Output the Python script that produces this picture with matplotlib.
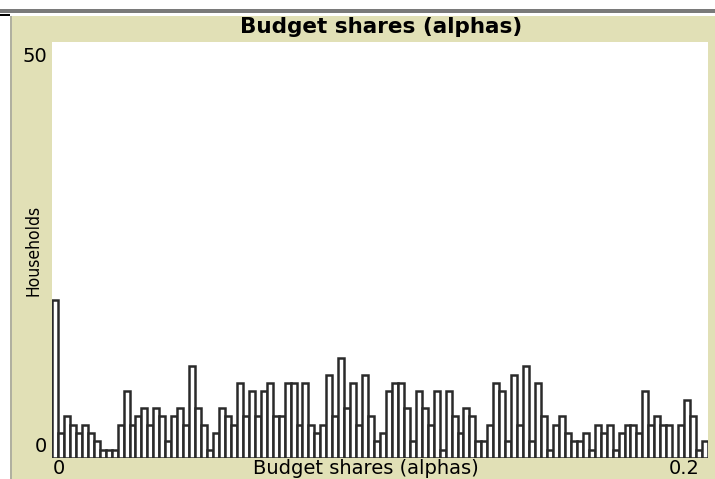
import numpy as np
import matplotlib
matplotlib.use("Agg")
import matplotlib.pyplot as plt
from matplotlib.patches import Rectangle

# household counts per budget-share bin (left to right)
households = [19, 3, 5, 4, 3, 4, 3, 2, 1, 1, 1, 4, 8, 4, 5,
              6, 4, 6, 5, 2, 5, 6, 4, 11, 6, 4, 1, 3, 6, 5, 4,
              9, 5, 8, 5, 8, 9, 5, 5, 9, 9, 4, 9, 4, 3, 4, 10,
              5, 12, 6, 9, 4, 10, 5, 2, 3, 8, 9, 9, 6, 2, 8, 6,
              4, 8, 1, 8, 5, 3, 6, 5, 2, 2, 4, 9, 8, 2, 10, 4, 11,
              2, 9, 5, 1, 4, 5, 3, 2, 2, 3, 1, 4, 3, 4, 1, 3,
              4, 4, 3, 8, 4, 5, 4, 4, 0, 4, 7, 5, 1, 2]
x_min, x_max = 0.0, 0.2
y_min, y_max = 0, 50
title = "Budget shares (alphas)"
x_label = "Budget shares (alphas)"
y_label = "Households"

W, H = 715, 479
beige = "#e1e0b6"

fig = plt.figure(figsize=(W / 100, H / 100), dpi=100)
fig.patch.set_facecolor("white")

# window frame bits
fig.patches.append(Rectangle((12 / W, 0), 1, 1 - 16 / H, transform=fig.transFigure,
                             facecolor=beige, edgecolor="none", zorder=0))
fig.patches.append(Rectangle((0, 1 - 13 / H), 1, 4 / H, transform=fig.transFigure,
                             facecolor="#7a7a7a", edgecolor="none", zorder=1))
fig.patches.append(Rectangle((0, 1 - 16 / H), 10 / W, 2 / H, transform=fig.transFigure,
                             facecolor="black", edgecolor="none", zorder=1))
fig.patches.append(Rectangle((10 / W, 0), 1.5 / W, 1 - 16 / H, transform=fig.transFigure,
                             facecolor="#b0b0a0", edgecolor="none", zorder=1))

ax = fig.add_axes([52 / W, 21 / H, 656 / W, 416 / H])
ax.set_zorder(5)
ax.set_facecolor("white")

n = len(households)
edges = np.linspace(x_min, x_max, n + 1)
ax.bar(edges[:-1], households, width=edges[1] - edges[0], align="edge",
       facecolor="white", edgecolor="#2a2a2a", linewidth=1.8)

ax.set_xlim(x_min, x_max)
ax.set_ylim(y_min, y_max)
ax.set_xticks([])
ax.set_yticks([])
for s in ax.spines.values():
    s.set_visible(False)

fig.text(381 / W, 1 - 27 / H, title, ha="center", va="center",
         fontsize=15.5, fontweight="bold", zorder=6)
fig.text(47 / W, 1 - 56 / H, str(y_max), ha="right", va="center", fontsize=14, zorder=6)
fig.text(47 / W, 1 - 447 / H, str(y_min), ha="right", va="center", fontsize=14, zorder=6)
fig.text(34 / W, 1 - 250 / H, y_label, ha="center", va="center",
         rotation=90, fontsize=12.5, fontstretch="condensed", zorder=6)
fig.text(53 / W, 1 - 468 / H, "0", ha="left", va="center", fontsize=14, zorder=6)
fig.text(700 / W, 1 - 468 / H, "0.2", ha="right", va="center", fontsize=14, zorder=6)
fig.text(366 / W, 1 - 468 / H, x_label, ha="center", va="center", fontsize=14, zorder=6)

fig.savefig("out.png", dpi=100)
